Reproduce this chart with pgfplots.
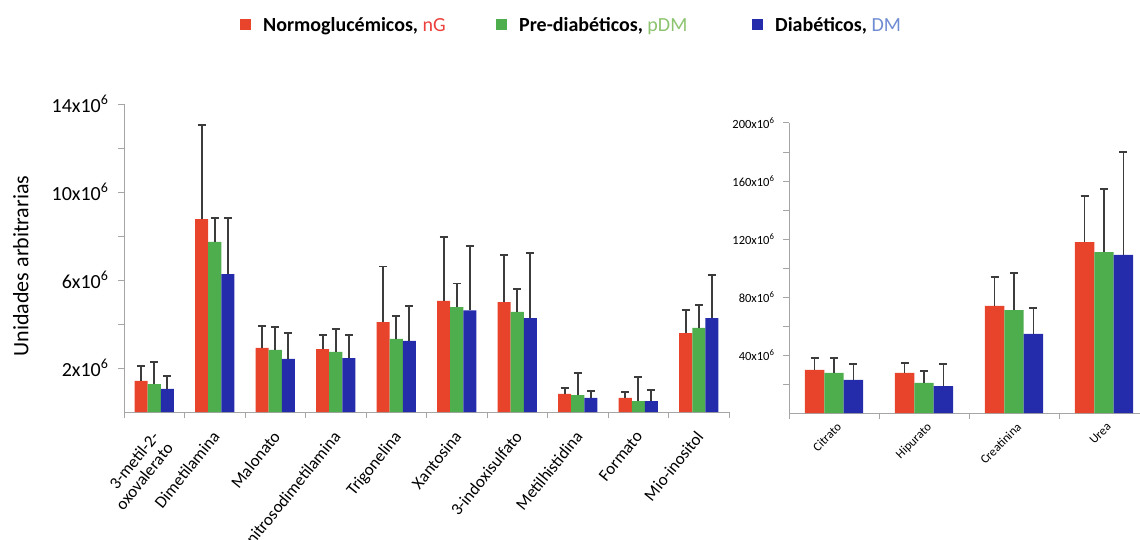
\documentclass[border=0pt]{standalone}
\usepackage{pgfplots}
\pgfplotsset{compat=1.18}
\usepackage{fontspec}
\setmainfont{Carlito}
\definecolor{cR}{RGB}{232,68,43}
\definecolor{cG}{RGB}{78,174,78}
\definecolor{cB}{RGB}{36,44,172}
\definecolor{tR}{RGB}{236,64,60}
\definecolor{tG}{RGB}{140,195,110}
\definecolor{tB}{RGB}{110,140,210}
\definecolor{axg}{RGB}{165,165,165}
\definecolor{errc}{RGB}{60,60,60}
\pgfplotsset{
  common/.style={
    scale only axis,
    ybar=0pt,
    bar width=0.215,
    axis lines*=left,
    axis line style={axg, line width=1pt},
    tick align=outside,
    major tick length=6pt,
    minor tick length=6pt,
    tick style={axg, line width=1pt},
    x tick label as interval,
    error bars/y dir=plus,
    error bars/y explicit,
    error bars/error bar style={errc, line width=1.6pt},
    error bars/error mark options={rotate=90, errc, line width=1.6pt, mark size=4pt},
    ymin=0,
    legend image code/.code={\fill[##1,draw=none] (0pt,-5.5pt) rectangle (11pt,5.5pt);},
  },
}
\begin{document}
\begin{tikzpicture}
\path[use as bounding box] (0,0) rectangle (1140pt,539pt);
\begin{axis}[common,
  at={(124pt,127pt)}, anchor=south west,
  width=605pt, height=308pt,
  xmin=-0.5, xmax=9.5, ymax=14,
  xtick={-0.5,0.5,...,9.5},
  xticklabels={{3-metil-2-\\oxovalerato},Dimetilamina,Malonato,N-nitrosodimetilamina,Trigonelina,Xantosina,3-indoxisulfato,Metilhistidina,Formato,Mio-inositol},
  xticklabel style={xshift=-4pt, yshift=-7pt, rotate=51, anchor=north east, align=right, font=\fontsize{17}{18}\selectfont},
  ytick={2,6,10,14},
  yticklabels={2x10\textsuperscript{6},6x10\textsuperscript{6},10x10\textsuperscript{6},14x10\textsuperscript{6}},
  minor ytick={4,8,12},
  yticklabel style={font=\fontsize{20}{21}\selectfont, xshift=-6pt},
  ylabel={Unidades arbitrarias},
  ylabel style={at={(axis description cs:-0.152,0.474)}, anchor=south, font=\fontsize{22}{26}\selectfont},
  legend columns=3,
  legend style={draw=none, fill=none, inner sep=0pt, font=\fontsize{20}{24}\selectfont,
    at={(axis description cs:0.1917,1.2565)}, anchor=west,
    nodes={inner sep=0pt},
    /tikz/every odd column/.append style={column sep=12pt}},
]
\addplot[fill=cR, draw=none, bar shift=-0.215] coordinates {
 (0,1.41) +- (0,0.68) (1,8.77) +- (0,4.28) (2,2.91) +- (0,1.00) (3,2.86) +- (0,0.64)
 (4,4.09) +- (0,2.52) (5,5.05) +- (0,2.90) (6,5.00) +- (0,2.14) (7,0.82) +- (0,0.27)
 (8,0.64) +- (0,0.27) (9,3.59) +- (0,1.05)};
\addlegendentry{\makebox[233pt][l]{\textbf{Normoglucémicos,} \textcolor{tR}{nG}}}
\addplot[fill=cG, draw=none, bar shift=0] coordinates {
 (0,1.27) +- (0,1.00) (1,7.73) +- (0,1.09) (2,2.82) +- (0,1.04) (3,2.73) +- (0,1.04)
 (4,3.32) +- (0,1.04) (5,4.77) +- (0,1.07) (6,4.55) +- (0,1.04) (7,0.77) +- (0,1.00)
 (8,0.50) +- (0,1.09) (9,3.82) +- (0,1.04)};
\addlegendentry{\makebox[233pt][l]{\textbf{Pre-diabéticos,} \textcolor{tG}{pDM}}}
\addplot[fill=cB, draw=none, bar shift=0.215] coordinates {
 (0,1.05) +- (0,0.59) (1,6.27) +- (0,2.55) (2,2.41) +- (0,1.18) (3,2.45) +- (0,1.05)
 (4,3.23) +- (0,1.59) (5,4.62) +- (0,2.93) (6,4.27) +- (0,2.96) (7,0.64) +- (0,0.31)
 (8,0.50) +- (0,0.50) (9,4.27) +- (0,1.96)};
\addlegendentry{\makebox[150pt][l]{\textbf{Diabéticos,} \textcolor{tB}{DM}}}
\end{axis}
\begin{axis}[common,
  at={(789pt,126pt)}, anchor=south west,
  width=360pt, height=290pt,
  xmin=-0.5, xmax=3.5, ymax=200,
  xtick={-0.5,0.5,...,3.5},
  xticklabels={Citrato,Hipurato,Creatinina,Urea},
  xticklabel style={xshift=2pt, yshift=2pt, rotate=45, anchor=north east, font=\fontsize{12.5}{14}\selectfont},
  ytick={40,80,120,160,200},
  yticklabels={40x10\textsuperscript{6},80x10\textsuperscript{6},120x10\textsuperscript{6},160x10\textsuperscript{6},200x10\textsuperscript{6}},
  minor ytick={20,60,100,140,180},
  yticklabel style={font=\fontsize{12.5}{14}\selectfont, xshift=-5pt},
]
\addplot[fill=cR, draw=none, bar shift=-0.215] coordinates {
 (0,29.7) +- (0,8.3) (1,27.6) +- (0,6.9) (2,73.8) +- (0,20.0) (3,117.9) +- (0,31.8)};
\addplot[fill=cG, draw=none, bar shift=0] coordinates {
 (0,27.6) +- (0,10.4) (1,20.7) +- (0,8.3) (2,71.0) +- (0,25.6) (3,111.0) +- (0,43.5)};
\addplot[fill=cB, draw=none, bar shift=0.215] coordinates {
 (0,22.8) +- (0,11.0) (1,18.6) +- (0,15.2) (2,54.5) +- (0,17.9) (3,109.0) +- (0,71.0)};
\end{axis}
\end{tikzpicture}
\end{document}
